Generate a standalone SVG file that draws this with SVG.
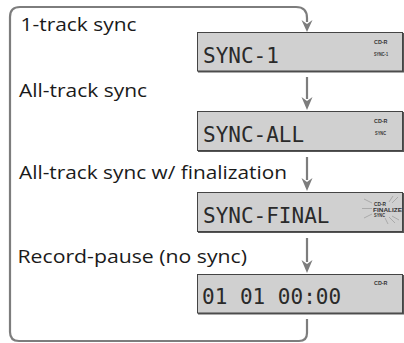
<svg xmlns="http://www.w3.org/2000/svg" width="404" height="343" viewBox="0 0 404 343">
<defs>
<style>
.lbl{font-family:"Open Sans","Noto Sans","DejaVu Sans",sans-serif;font-size:18.5px;fill:#1a1a1a}
.lcd{font-family:"DejaVu Sans Mono","Liberation Mono",monospace;font-size:21px;fill:#2a2a2a}
.ind{font-family:"Liberation Sans",Arial,sans-serif;font-weight:bold;font-size:6px;fill:#333}
.box{fill:#d0d0d0;stroke:#444;stroke-width:1}
.shd{fill:#555}
.conn{fill:none;stroke:#7d7d7d;stroke-width:2.2}
.ray{stroke:#9a9a9a;stroke-width:0.7;fill:none}
</style>
<marker id="ah" markerWidth="10" markerHeight="12" refX="5" refY="12" orient="auto-start-reverse" markerUnits="userSpaceOnUse" viewBox="0 0 10 12">
<path d="M0,0 L5,3 L10,0 L5,12 Z" fill="#7d7d7d" transform="rotate(0)"/>
</marker>
</defs>
<g id="connectors">
<path class="conn" d="M307,319 L307,333 Q307,341 299,341 L19,341 Q10,341 10,332 L10,17 Q10,7 20,7 L296,7 Q307,7 307,18 L307,22"/>
<path d="M301.5,20 L307,24 L312.5,20 L307,32 Z" fill="#7d7d7d"/>
<line class="conn" x1="307" y1="77" x2="307" y2="99"/>
<path d="M301.5,97 L307,101 L312.5,97 L307,110 Z" fill="#7d7d7d"/>
<line class="conn" x1="307" y1="157" x2="307" y2="180"/>
<path d="M301.5,178 L307,182 L312.5,178 L307,191 Z" fill="#7d7d7d"/>
<line class="conn" x1="307" y1="238" x2="307" y2="262"/>
<path d="M301.5,260 L307,264 L312.5,260 L307,273 Z" fill="#7d7d7d"/>
</g>
<g id="label-1track"><text class="lbl" x="20.5" y="31" textLength="116" lengthAdjust="spacingAndGlyphs">1-track sync</text></g>
<g id="label-alltrack"><text class="lbl" x="19" y="97" textLength="128" lengthAdjust="spacingAndGlyphs">All-track sync</text></g>
<g id="label-final"><text class="lbl" x="19" y="179" textLength="268" lengthAdjust="spacingAndGlyphs">All-track sync w/ finalization</text></g>
<g id="label-recpause"><text class="lbl" x="17.5" y="263" textLength="229.5" lengthAdjust="spacingAndGlyphs">Record-pause (no sync)</text></g>
<g id="display-sync1">
<rect class="shd" x="198" y="33" width="206" height="39.5"/>
<rect class="box" x="197.5" y="32.5" width="205" height="38.5"/>
<text class="lcd" x="203" y="63">SYNC-1</text>
<text class="ind" x="374" y="44" textLength="13.5" lengthAdjust="spacingAndGlyphs">CD-R</text>
<text class="ind" x="374" y="56" textLength="14" lengthAdjust="spacingAndGlyphs" style="font-size:5.5px">SYNC-1</text>
</g>
<g id="display-syncall">
<rect class="shd" x="198" y="112" width="206" height="40"/>
<rect class="box" x="197.5" y="111.5" width="205" height="39"/>
<text class="lcd" x="203" y="142">SYNC-ALL</text>
<text class="ind" x="374" y="123" textLength="13.5" lengthAdjust="spacingAndGlyphs">CD-R</text>
<text class="ind" x="375" y="135" textLength="11" lengthAdjust="spacingAndGlyphs" style="font-size:5.5px">SYNC</text>
</g>
<g id="display-syncfinal">
<rect class="shd" x="198" y="193" width="206" height="40"/>
<rect class="box" x="197.5" y="192.5" width="205" height="39"/>
<text class="lcd" x="203" y="223">SYNC-FINAL</text>
<path class="ray" d="M372,203 L364,199 M372,208.5 L362,208.5 M372,214 L364,218 M389,202 L393,196 M392,203 L398,197 M385,218 L388,224 M389,217 L395,223 M392,216 L399,220"/>
<text class="ind" x="374" y="206" textLength="12" lengthAdjust="spacingAndGlyphs" style="font-size:5.5px">CD-R</text>
<text class="ind" x="373" y="211.5" textLength="29" lengthAdjust="spacingAndGlyphs" style="font-size:5.5px">FINALIZE</text>
<text class="ind" x="374" y="217" textLength="11" lengthAdjust="spacingAndGlyphs" style="font-size:5.5px">SYNC</text>
</g>
<g id="display-recpause">
<rect class="shd" x="198" y="275" width="206" height="39.5"/>
<rect class="box" x="197.5" y="274.5" width="205" height="38.5"/>
<text class="lcd" x="202" y="304">01 01 00:00</text>
<text class="ind" x="374" y="285" textLength="13.5" lengthAdjust="spacingAndGlyphs">CD-R</text>
</g>
</svg>
